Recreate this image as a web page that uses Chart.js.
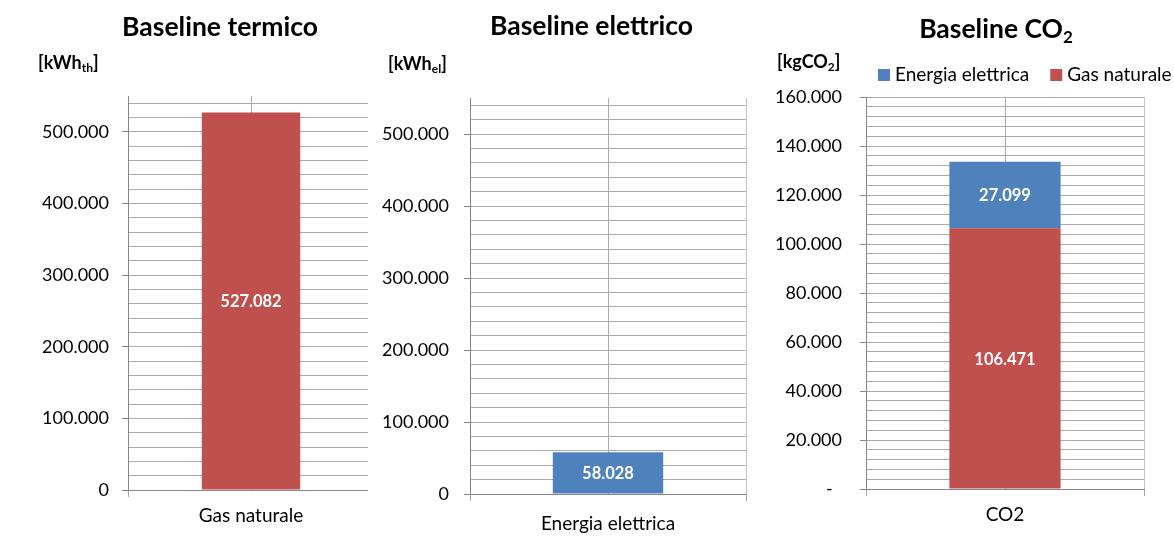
<!DOCTYPE html>
<html>
<head>
<meta charset="utf-8">
<title>Baseline</title>
<script src="https://cdn.jsdelivr.net/npm/chart.js@4.4.1/dist/chart.umd.min.js"></script>
<style>
  html, body { margin: 0; padding: 0; background: #ffffff; }
  body { width: 1174px; height: 542px; position: relative; overflow: hidden; }
  .panel { position: absolute; top: 0; height: 542px; overflow: hidden; }
  canvas { display: block; }
</style>
</head>
<body>
<div class="panel" style="left:0;width:368px"><canvas id="chartThermal" width="380" height="542"></canvas></div>
<div class="panel" style="left:368px;width:392px"><canvas id="chartElectric" width="392" height="542"></canvas></div>
<div class="panel" style="left:760px;width:414px"><canvas id="chartCo2" width="414" height="542"></canvas></div>
<script>
// ---- data ----
const thermalCategories = ['Gas naturale'];
const thermalValues = [527082];

const electricCategories = ['Energia elettrica'];
const electricValues = [58028];

const co2Categories = ['CO2'];
const co2SeriesNames = ['Gas naturale', 'Energia elettrica'];
const co2GasValues = [106471];
const co2ElectricValues = [27099];

// axis ranges: [axis max, last gridline, labelled step, gridline step]
const energyAxis = [550000, 540000, 100000, 20000];
const co2Axis = [160000, 160000, 20000, 4000];

// ---- styling ----
const FONT = 'Lato, "Open Sans", "Liberation Sans", sans-serif';
const RED = '#C0504D';
const BLUE = '#4F81BD';
const GRID = '#ababab';
const AXIS = '#868686';

function fmtIt(v) {
  return String(Math.round(v)).replace(/\B(?=(\d{3})+(?!\d))/g, '.');
}

function drawRich(ctx, parts, x, y, align, font, subFont, subShift) {
  let w = 0;
  parts.forEach(p => { ctx.font = p.sub ? subFont : font; w += ctx.measureText(p.text).width; });
  let cx = align === 'center' ? x - w / 2 : x;
  ctx.textAlign = 'left';
  ctx.textBaseline = 'alphabetic';
  parts.forEach(p => {
    ctx.font = p.sub ? subFont : font;
    ctx.fillText(p.text, cx, y + (p.sub ? subShift : 0));
    cx += ctx.measureText(p.text).width;
  });
}

// titles, unit labels, legend, value labels and the category centre line
const panelDecor = {
  id: 'panelDecor',
  beforeDatasetsDraw(chart) {
    const xs = chart.scales.x, area = chart.chartArea, ctx = chart.ctx;
    ctx.save();
    ctx.strokeStyle = GRID;
    ctx.lineWidth = 1;
    chart.data.labels.forEach((_, i) => {
      const px = Math.round(xs.getPixelForValue(i)) + 0.5;
      ctx.beginPath();
      ctx.moveTo(px, area.top);
      ctx.lineTo(px, area.bottom);
      ctx.stroke();
    });
    ctx.restore();
  },
  afterDatasetsDraw(chart) {
    const ctx = chart.ctx;
    ctx.save();
    ctx.font = 'bold 16.5px ' + FONT;
    ctx.fillStyle = '#ffffff';
    ctx.textAlign = 'center';
    ctx.textBaseline = 'middle';
    chart.data.datasets.forEach((ds, di) => {
      chart.getDatasetMeta(di).data.forEach((bar, i) => {
        const p = bar.getProps(['x', 'y', 'base'], true);
        ctx.fillText(fmtIt(ds.data[i]), p.x, (p.y + p.base) / 2 + 1);
      });
    });
    ctx.restore();
  },
  afterDraw(chart, args, opts) {
    const ctx = chart.ctx;
    ctx.save();
    ctx.fillStyle = '#000000';
    const t = opts.title;
    drawRich(ctx, t.parts, t.x, t.y, 'center', 'bold 26.5px ' + FONT, 'bold 17px ' + FONT, 5);
    const u = opts.unit;
    drawRich(ctx, u.parts, u.x, u.y, 'left', 'bold 18px ' + FONT, 'bold 12px ' + FONT, 3);
    if (opts.legend) {
      const lg = opts.legend;
      let x = lg.x;
      ctx.font = '19px ' + FONT;
      ctx.textBaseline = 'alphabetic';
      ctx.textAlign = 'left';
      chart.data.datasets.slice().reverse().forEach(ds => {
        ctx.fillStyle = ds.backgroundColor;
        ctx.fillRect(x, lg.y - 12, 12, 12);
        x += 17;
        ctx.fillStyle = '#000000';
        ctx.fillText(ds.label, x, lg.y);
        x += ctx.measureText(ds.label).width + 21;
      });
    }
    ctx.restore();
  }
};

function yScale(axis, zeroLabel, labelPad, width) {
  const [max, lastLine, major, minor] = axis;
  return {
    stacked: true,
    min: 0,
    max: max,
    border: { display: true, color: AXIS, width: 1 },
    grid: {
      color: GRID,
      lineWidth: 1,
      drawTicks: true,
      tickLength: 6,
      tickColor: c => (c.tick && c.tick.value % major === 0) ? AXIS : 'rgba(0,0,0,0)'
    },
    ticks: {
      autoSkip: false,
      padding: labelPad,
      color: '#000000',
      font: { family: FONT, size: 18 },
      callback: v => (v % major === 0) ? (v === 0 ? zeroLabel : fmtIt(v)) : ''
    },
    afterBuildTicks: s => {
      const ticks = [];
      for (let v = 0; v <= lastLine; v += minor) ticks.push({ value: v });
      s.ticks = ticks;
    },
    afterFit: s => { s.width = width; }
  };
}

function xScale(height, labelPad) {
  return {
    stacked: true,
    border: { display: true, color: AXIS, width: 1 },
    grid: { offset: true, color: '#c4c4c4', drawTicks: true, tickLength: 7, tickColor: '#a6a6a6' },
    ticks: { padding: labelPad, color: '#000000', font: { family: FONT, size: 19 } },
    afterFit: s => { s.height = height; }
  };
}

function makeChart(id, labels, datasets, yOpts, xOpts, padding, decor) {
  return new Chart(document.getElementById(id), {
    type: 'bar',
    data: { labels: labels, datasets: datasets },
    options: {
      responsive: false,
      animation: false,
      devicePixelRatio: 1,
      layout: { padding: padding },
      events: [],
      plugins: { legend: { display: false }, tooltip: { enabled: false }, panelDecor: decor },
      scales: { x: xOpts, y: yOpts }
    },
    plugins: [panelDecor]
  });
}

function bar(label, data, color) {
  return { label: label, data: data, backgroundColor: color, borderWidth: 0,
           barPercentage: 0.4, categoryPercentage: 1.0 };
}

makeChart('chartThermal', thermalCategories,
  [bar('Gas naturale', thermalValues, RED)],
  yScale(energyAxis, '0', 13, 128), xScale(52, 7),
  { top: 96, right: 6, left: 0, bottom: 0 },
  {
    title: { parts: [{ text: 'Baseline termico' }], x: 220, y: 36 },
    unit: { parts: [{ text: '[kWh' }, { text: 'th', sub: true }, { text: ']' }], x: 38, y: 69 }
  });

makeChart('chartElectric', electricCategories,
  [bar('Energia elettrica', electricValues, BLUE)],
  yScale(energyAxis, '0', 15, 102), xScale(48, 11),
  { top: 98, right: 14, left: 0, bottom: 0 },
  {
    title: { parts: [{ text: 'Baseline elettrico' }], x: 223.5, y: 34.5 },
    unit: { parts: [{ text: '[kWh' }, { text: 'el', sub: true }, { text: ']' }], x: 20, y: 70 }
  });

makeChart('chartCo2', co2Categories,
  [bar(co2SeriesNames[0], co2GasValues, RED), bar(co2SeriesNames[1], co2ElectricValues, BLUE)],
  yScale(co2Axis, '-\u00a0\u00a0', 18, 106), xScale(53, 7),
  { top: 97, right: 30, left: 0, bottom: 0 },
  {
    title: { parts: [{ text: 'Baseline CO' }, { text: '2', sub: true }], x: 236, y: 38 },
    unit: { parts: [{ text: '[kgCO' }, { text: '2', sub: true }, { text: ']' }], x: 17, y: 68 },
    legend: { x: 118, y: 81 }
  });
</script>
</body>
</html>
